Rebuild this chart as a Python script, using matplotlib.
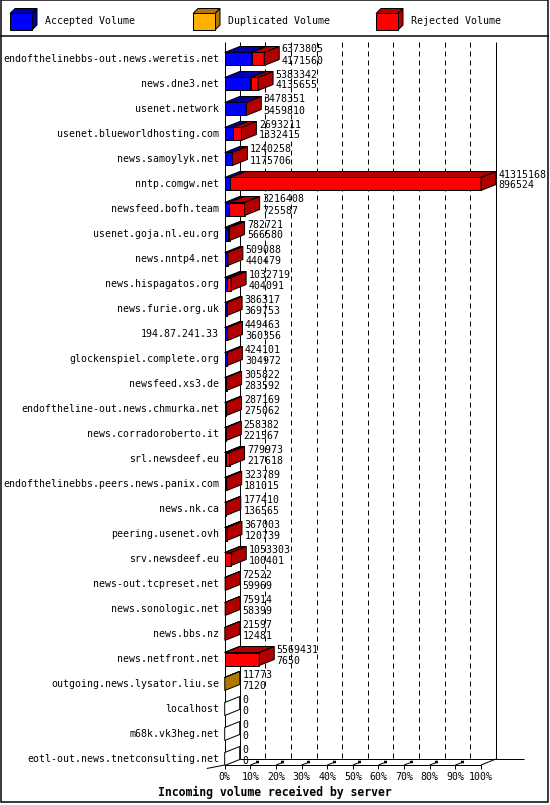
import matplotlib
matplotlib.use("Agg")
import matplotlib.pyplot as plt
from matplotlib.patches import Polygon, Rectangle

# ---------------- data ----------------
servers = [
    "endofthelinebbs-out.news.weretis.net", "news.dne3.net", "usenet.network",
    "usenet.blueworldhosting.com", "news.samoylyk.net", "nntp.comgw.net",
    "newsfeed.bofh.team", "usenet.goja.nl.eu.org", "news.nntp4.net",
    "news.hispagatos.org", "news.furie.org.uk", "194.87.241.33",
    "glockenspiel.complete.org", "newsfeed.xs3.de",
    "endoftheline-out.news.chmurka.net", "news.corradoroberto.it",
    "srl.newsdeef.eu", "endofthelinebbs.peers.news.panix.com", "news.nk.ca",
    "peering.usenet.ovh", "srv.newsdeef.eu", "news-out.tcpreset.net",
    "news.sonologic.net", "news.bbs.nz", "news.netfront.net",
    "outgoing.news.lysator.liu.se", "localhost", "m68k.vk3heg.net",
    "eotl-out.news.tnetconsulting.net",
]
total = [6373805, 5383342, 3478351, 2693211, 1240258, 41315168, 3216408,
         782721, 509088, 1032719, 386317, 449463, 424101, 305822, 287169,
         258382, 779973, 323789, 177410, 367003, 1053303, 72522, 75914,
         21597, 5569431, 11773, 0, 0, 0]
accepted = [4171560, 4135655, 3459810, 1332415, 1175706, 896524, 725587,
            566580, 440479, 404091, 369753, 360356, 304972, 283592, 275062,
            221567, 217618, 181015, 136565, 120739, 100401, 59969, 58399,
            12481, 7650, 7120, 0, 0, 0]
duplicated = [180000, 150000, 0, 0, 0, 0, 0, 0, 0, 0, 0, 0, 0, 0, 0, 0, 0,
              0, 0, 0, 0, 0, 0, 0, 0, 4653, 0, 0, 0]
pct_ticks = [0, 10, 20, 30, 40, 50, 60, 70, 80, 90, 100]
legend_labels = ["Accepted Volume", "Duplicated Volume", "Rejected Volume"]
title = "Incoming volume received by server"

# ---------------- style ----------------
front_cols = ["#0000ff", "#ffb000", "#ff0000"]
dark_cols = ["#0000a8", "#b07800", "#b00000"]
FONT = "DejaVu Sans Mono"
FS = 7.1
LW = 0.72  # 1 px at 100 dpi

W, H, DPI = 550, 805, 100
fig = plt.figure(figsize=(W / DPI, H / DPI), dpi=DPI)
fig.patch.set_facecolor("white")

bg = fig.add_axes([0, 0, 1, 1])
bg.set_xlim(0, W)
bg.set_ylim(H, 0)
bg.axis("off")

# frame + legend
bg.add_patch(Rectangle((0.5, 0.5), W - 2.5, H - 3.5, fill=False, ec="black", lw=LW * 1.5))
bg.plot([0.5, W - 2], [36, 36], color="black", lw=LW * 1.5)
leg_x = [10, 193, 376]
for k, lab in enumerate(legend_labels):
    x0 = leg_x[k]
    fx0, fx1, fy0, fy1, d = x0, x0 + 22, 13.5, 30, 5
    bg.add_patch(Polygon([(fx0, fy0), (fx1, fy0), (fx1 + d, fy0 - d), (fx0 + d, fy0 - d)],
                         fc=dark_cols[k], ec="black", lw=LW))
    bg.add_patch(Polygon([(fx1, fy0), (fx1, fy1), (fx1 + d, fy1 - d), (fx1 + d, fy0 - d)],
                         fc=dark_cols[k], ec="black", lw=LW))
    bg.add_patch(Rectangle((fx0, fy0), fx1 - fx0, fy1 - fy0, fc=front_cols[k], ec="black", lw=LW))
    bg.text(x0 + 35, 21, lab, fontsize=FS, family=FONT, va="center", ha="left")

bg.text(W / 2, 792, title, fontsize=8.3, family=FONT, weight="bold", ha="center", va="center")

# ---------------- main axes ----------------
X0, X1 = 224.7, 481.0
YT, YB = 42.0, 765.0
ROW0, ROWSTEP = 59.0, 25.0
ax = fig.add_axes([X0 / W, 1 - YB / H, (X1 - X0) / W, (YB - YT) / H])
ax.set_xlim(0, 100)
ax.set_ylim((YB - ROW0) / ROWSTEP, (YT - ROW0) / ROWSTEP)
ax.axis("off")

ux = 100.0 / (X1 - X0)   # data units per pixel (x)
uy = 1.0 / ROWSTEP       # data units per pixel (y)
DX, DY = 15 * ux, -6 * uy
HH = 6.5 * uy
ytop = ax.get_ylim()[1]
yff = ax.get_ylim()[0]
yfb = yff + DY

kw = dict(color="black", lw=LW, clip_on=False, solid_capstyle="butt")
# walls
ax.plot([0, 0], [ytop, yff], **kw)
ax.plot([DX, DX], [ytop, yfb], **kw)
ax.plot([100 + DX, 100 + DX], [ytop, yfb], **kw)
for p in pct_ticks[1:-1]:
    ax.plot([p + DX, p + DX], [ytop, yfb], color="black", lw=LW, clip_on=False,
            linestyle=(0, (5, 4)))
# floor
ax.plot([0, 100], [yff, yff], **kw)
ax.plot([100, 100 + DX], [yff, yfb], **kw)
ax.plot([DX, 100 + DX + 28 * ux], [yfb, yfb], **kw)
ax.plot([-18 * ux, 0], [yff + 3.5 * uy, yff], **kw)
for p in pct_ticks:
    ax.plot([p, p], [yff, yff + 4 * uy], **kw)
    if 0 < p < 100:
        ax.plot([p, p + 8 * ux], [yff, yff - 3 * uy], **kw)
        ax.plot([p + 5.5 * ux, p + 8.5 * ux], [yff - 3 * uy, yff - 3 * uy],
                color="black", lw=LW * 2.5, clip_on=False, solid_capstyle="butt")
    ax.text(p, yff + 12 * uy, f"{p}%", fontsize=FS, family=FONT, ha="center", va="center")

# bars
vmax = max(total)
for i, name in enumerate(servers):
    rejected = total[i] - accepted[i] - duplicated[i]
    segs = [accepted[i], duplicated[i], rejected]
    y = i
    top, bot = y - HH, y + HH
    x = 0.0
    last = None
    for k, v in enumerate(segs):
        if v <= 0:
            continue
        w = v / vmax * 100
        ax.add_patch(Polygon([(x, top), (x + w, top), (x + w + DX, top + DY), (x + DX, top + DY)],
                             fc=dark_cols[k], ec="black", lw=LW, clip_on=False, zorder=3))
        ax.add_patch(Rectangle((x, top), w, 2 * HH, fc=front_cols[k], ec="black", lw=LW,
                               clip_on=False, zorder=3))
        x += w
        last = k
    side_fc = dark_cols[last] if last is not None else "white"
    ax.add_patch(Polygon([(x, top), (x, bot), (x + DX, bot + DY), (x + DX, top + DY)],
                         fc=side_fc, ec="black", lw=LW, clip_on=False, zorder=3))
    tx = x + DX + 2.5 * ux
    ax.text(tx, y - 9.5 * uy, str(total[i]), fontsize=FS, family=FONT, ha="left",
            va="center", zorder=4)
    ax.text(tx, y + 1.5 * uy, str(accepted[i]), fontsize=FS, family=FONT, ha="left",
            va="center", zorder=4)
    ax.text(-5.5 * ux, y, name, fontsize=FS, family=FONT, ha="right", va="center")

fig.savefig("out.png", dpi=DPI, facecolor="white")
